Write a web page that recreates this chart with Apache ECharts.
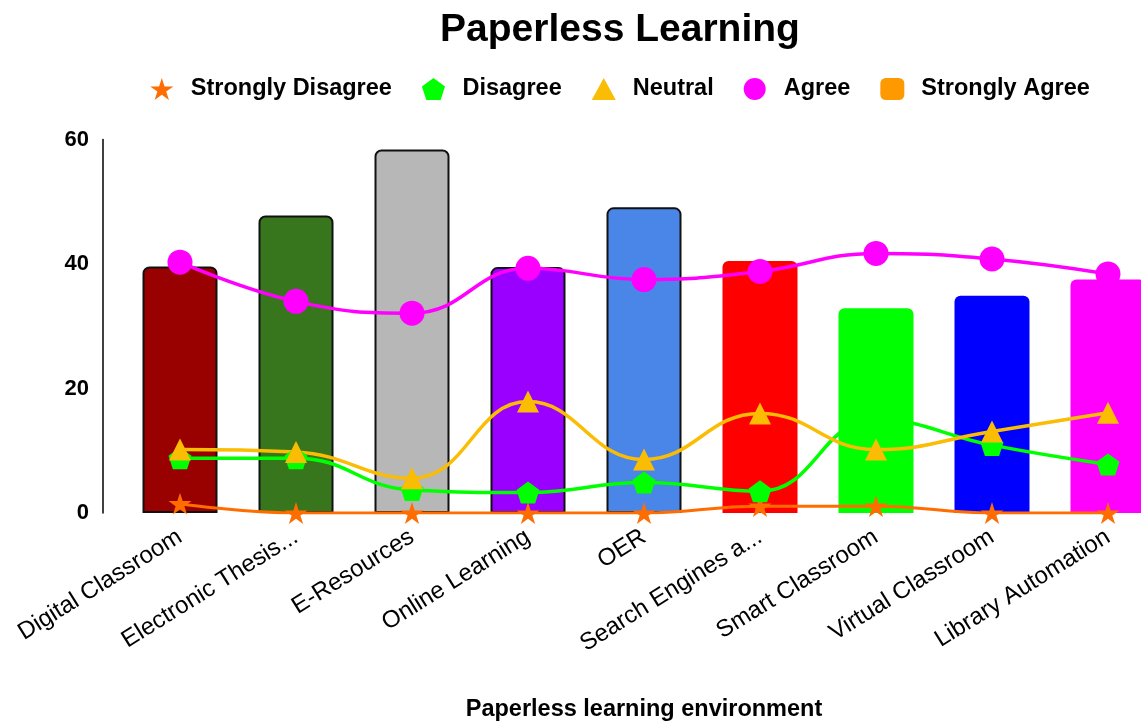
<!DOCTYPE html>
<html>
<head>
<meta charset="utf-8">
<script src="https://cdn.jsdelivr.net/npm/echarts@6/dist/echarts.min.js"></script>
<style>html,body{margin:0;padding:0;background:#fff;overflow:hidden;width:1141px;height:724px}#c{width:1240px;height:724px}</style>
</head>
<body>
<div id="c"></div>
<script>
const categories = ["Digital Classroom","Electronic Thesis...","E-Resources","Online Learning","OER","Search Engines a...","Smart Classroom","Virtual Classroom","Library Automation"];
const stronglyDisagree = [1.5,0,0,0,0,1.1,1.1,0,0];
const disagree = [8.8,8.8,3.7,3.3,4.9,3.5,15,10.9,7.8];
const neutral = [10.2,9.8,5.6,17.9,8.6,16.0,10.2,13.1,16.1];
const agree = [40.3,34.0,32.1,39.3,37.5,38.8,41.7,40.8,38.4];
const stronglyAgree = [39.6,47.8,58.4,39.5,49.1,40.5,32.9,34.9,37.5];
const barColors = ["#990000","#38761d","#b7b7b7","#9900ff","#4a86e8","#ff0000","#00ff00","#0000ff","#ff00ff"];
const barBordered = [true,true,true,true,true,false,false,false,false];
const yTicks = [0,20,40,60];

const STAR = 'path://M50 0 L61.17 34.63 L97.55 34.55 L68.07 55.87 L79.39 90.45 L50 69 L20.61 90.45 L31.93 55.87 L2.45 34.55 L38.83 34.63 Z';
const PENT = 'path://M50 0 L97.55 34.55 L79.39 90.45 L20.61 90.45 L2.45 34.55 Z';
const FONT = '"Liberation Sans", Arial, sans-serif';

const chart = echarts.init(document.getElementById('c'), null, {renderer:'canvas'});
function lineSeries(name, data, color, symbol, size, width){
  return {name, type:'line', data, smooth:0.45, z:5, symbol, symbolSize:size, symbolKeepAspect:true,
    showAllSymbol:true, lineStyle:{color, width:width}, itemStyle:{color}, emphasis:{disabled:true}};
}
chart.setOption({
  animation:false,
  backgroundColor:'#fff',
  title:{text:'Paperless Learning', left:'center', top:6,
    textStyle:{fontFamily:FONT, fontSize:39, fontWeight:'bold', color:'#000'}},
  legend:{left:'center', top:72, itemWidth:24, itemHeight:22, itemGap:30,
    formatter: n => '{s|}' + n,
    textStyle:{fontFamily:FONT, fontSize:23.5, fontWeight:'bold', color:'#000', rich:{s:{width:12}}},
    data:[{name:'Strongly Disagree', icon:STAR},{name:'Disagree', icon:PENT},{name:'Neutral', icon:'triangle'},{name:'Agree', icon:'circle'},{name:'Strongly Agree', icon:'roundRect'}]},
  grid:{left:122, top:139.5, right:74, bottom:211, containLabel:false, outerBoundsMode:'none'},
  xAxis:{type:'category', data:categories, boundaryGap:true,
    axisLine:{show:false}, axisTick:{show:false},
    axisLabel:{rotate:32, margin:22, interval:0, fontFamily:FONT, fontSize:24, color:'#000'},
    name:'Paperless learning environment', nameLocation:'middle', nameGap:185,
    nameTextStyle:{fontFamily:FONT, fontSize:23.5, fontWeight:'bold', color:'#000'}},
  yAxis:{type:'value', min:yTicks[0], max:yTicks[yTicks.length-1], interval:20, offset:19,
    axisLine:{show:true, lineStyle:{color:'#000', width:1.5}}, axisTick:{show:false}, splitLine:{show:false},
    axisLabel:{margin:14, fontFamily:FONT, fontSize:22, fontWeight:'bold', color:'#000'}},
  series:[
    lineSeries('Strongly Disagree', stronglyDisagree, '#ff6d01', STAR, 23, 3),
    lineSeries('Disagree', disagree, '#00ff00', PENT, 23, 3.5),
    lineSeries('Neutral', neutral, '#fbbc04', 'triangle', 22, 3.5),
    lineSeries('Agree', agree, '#ff00ff', 'circle', 25, 3.5),
    {name:'Strongly Agree', type:'bar', z:2, barWidth:75, itemStyle:{color:'#ff9900'}, emphasis:{disabled:true},
      data: stronglyAgree.map((v,i)=>({value:v, itemStyle:{color:barColors[i],
        borderColor: barBordered[i] ? '#111' : barColors[i], borderWidth: barBordered[i] ? 2 : 0,
        borderRadius:[6,6,0,0]}}))}
  ]
});
</script>
</body>
</html>
